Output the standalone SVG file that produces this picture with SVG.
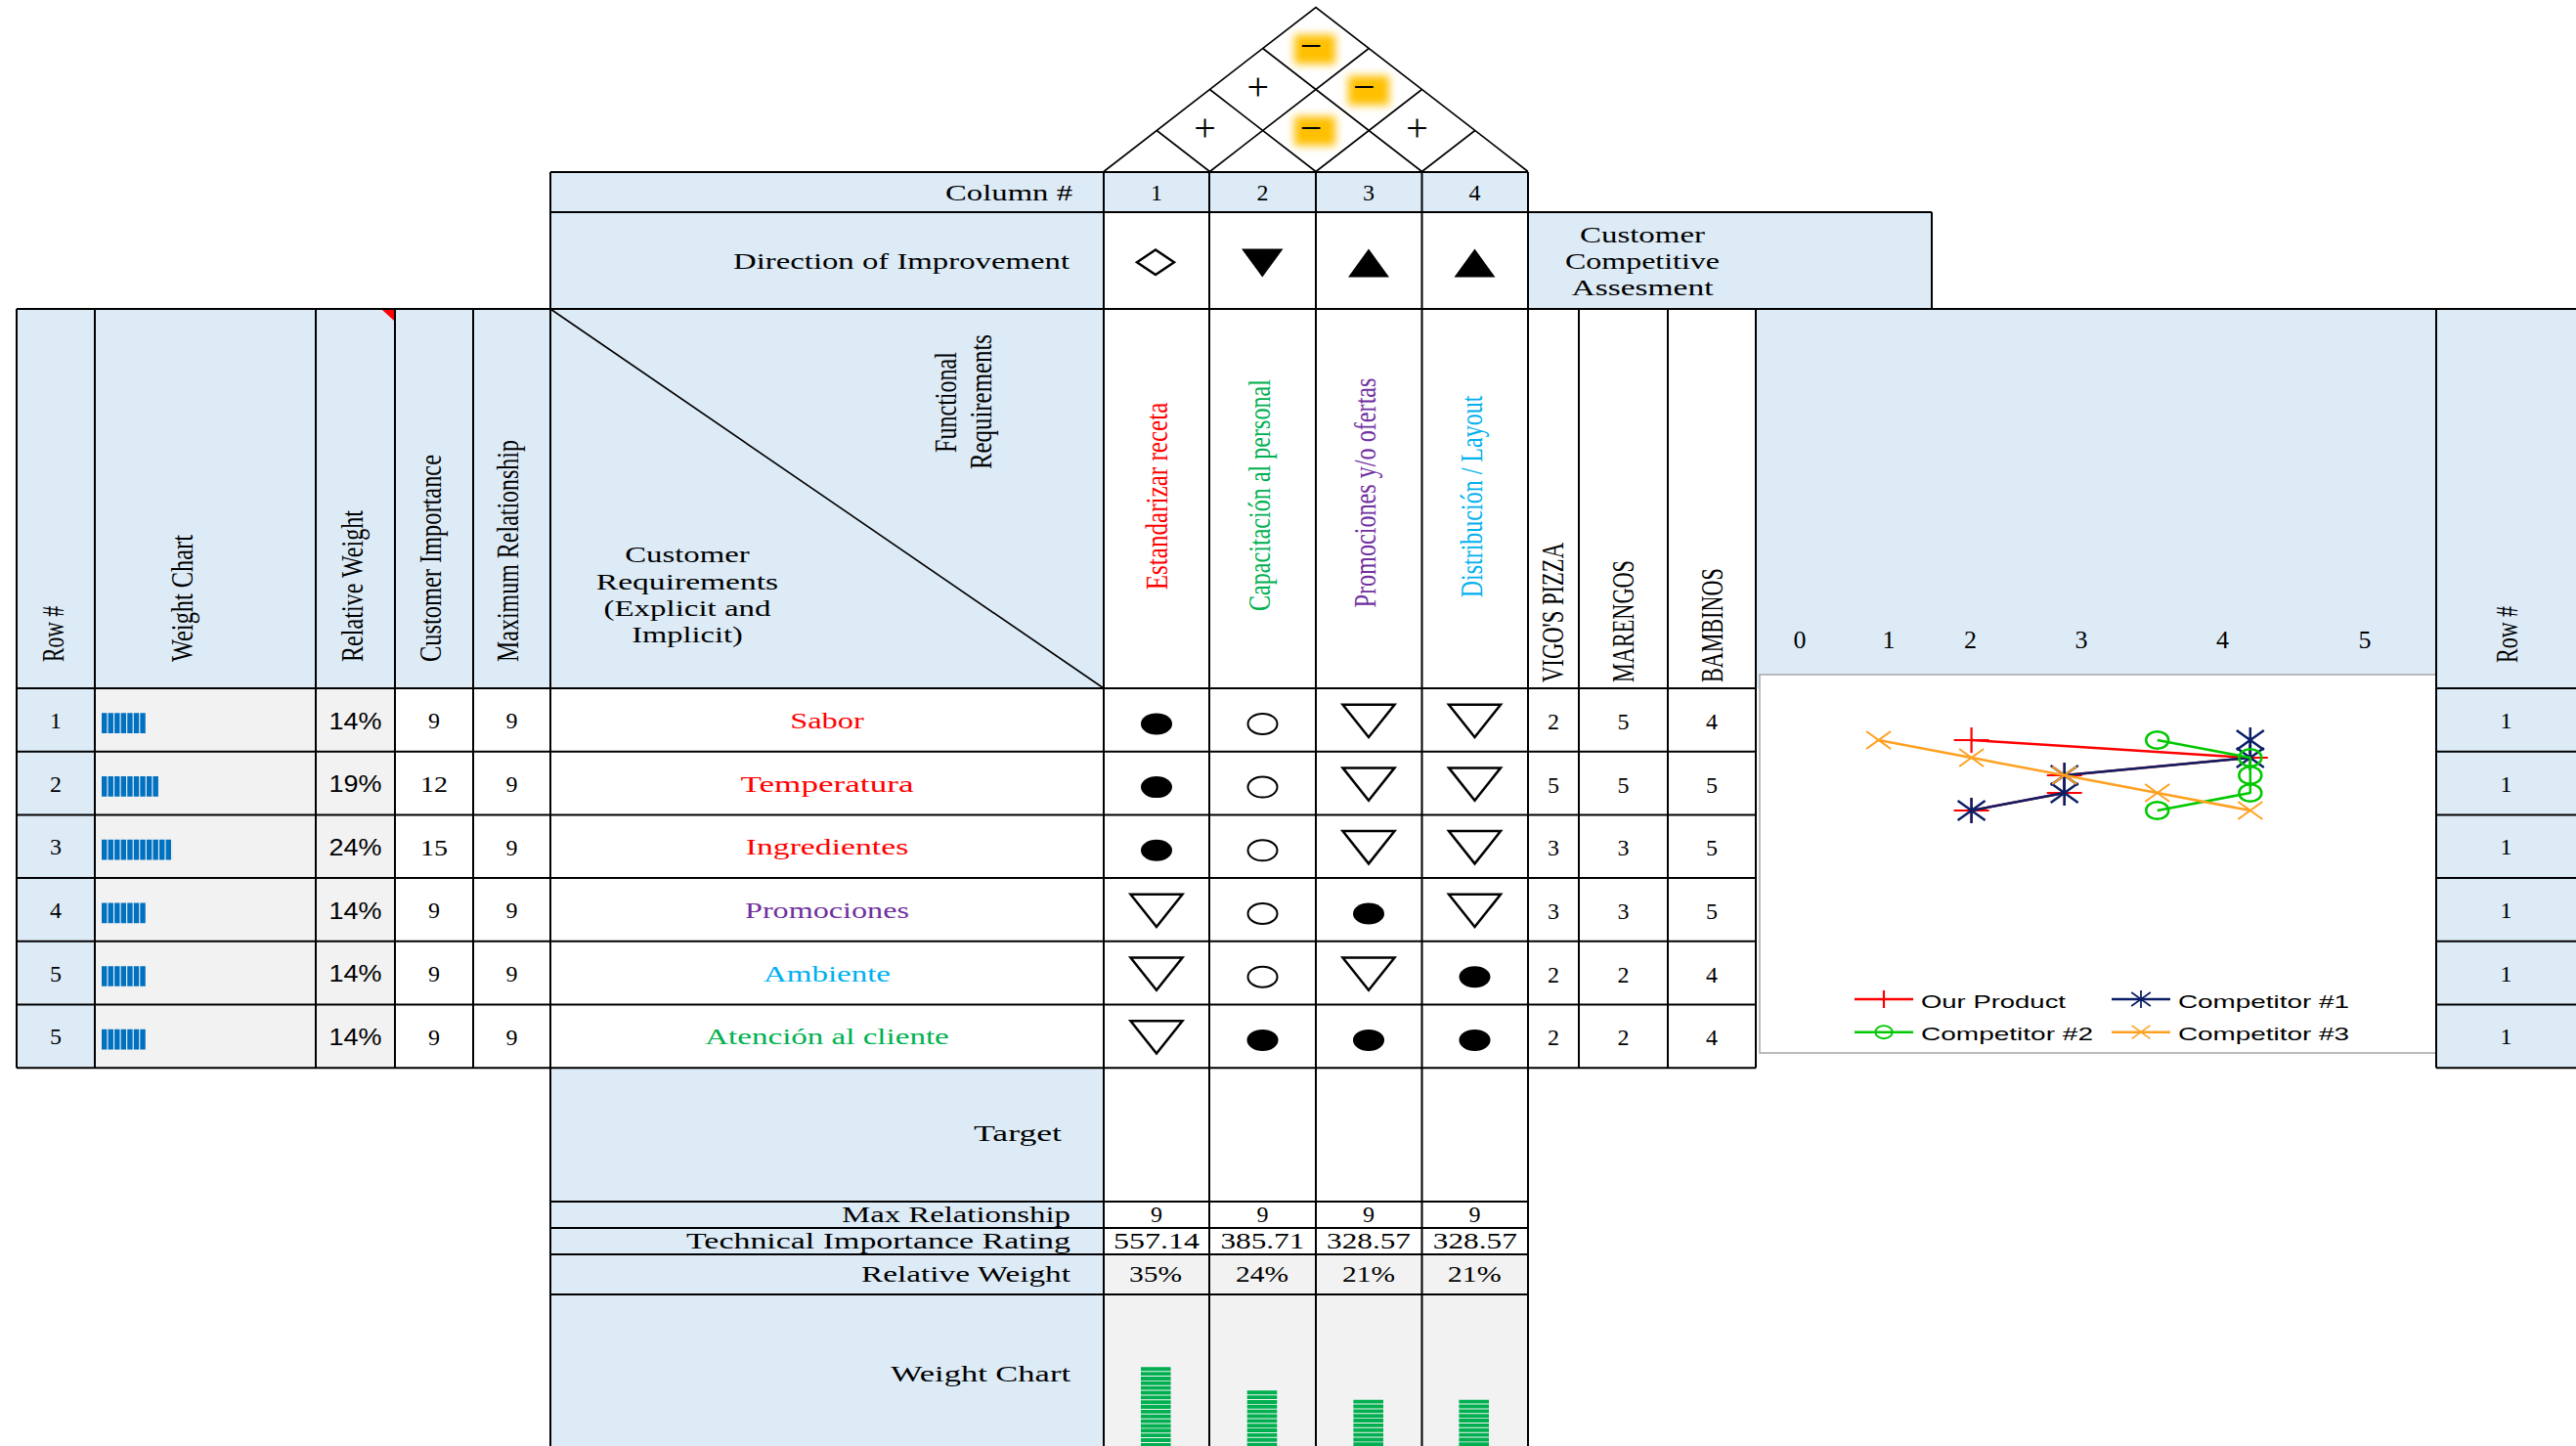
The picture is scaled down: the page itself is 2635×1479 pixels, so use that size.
<svg xmlns="http://www.w3.org/2000/svg" width="2635" height="1479" viewBox="0 0 2635 1479">
<style>
.bl{fill:#DDEBF7}
.gr{fill:#F2F2F2}
.g{stroke:#000;stroke-width:2;fill:none}
.rf{stroke:#000;stroke-width:1.6;fill:none}
.s{font-family:"Liberation Serif",serif;font-size:24px}
.c{text-anchor:middle}
.e{text-anchor:end}
.v{font-family:"Liberation Serif",serif;font-size:31px}
.pm{font-family:"Liberation Serif",serif;font-size:40px;text-anchor:middle}
.ss{font-family:"Liberation Sans",sans-serif;font-size:23px;text-anchor:middle}
.lg{font-family:"Liberation Sans",sans-serif;font-size:19px}
.red{fill:#FF0000}
.grn{fill:#00B050}
.pur{fill:#7030A0}
.cya{fill:#00B0F0}
.dot{fill:#000}
.ring{fill:none;stroke:#000;stroke-width:2}
.tri{fill:none;stroke:#000;stroke-width:2.5}
.hl{fill:#FFC000;filter:url(#glow)}
.ln{fill:none;stroke-width:2.5;stroke-linejoin:round}
</style>
<defs>
  <filter id="glow" x="-50%" y="-50%" width="200%" height="200%"><feGaussianBlur stdDeviation="4.5"/></filter>
  <path id="tri" d="M-26.5,-15.7 H26.5 L0,17.6 Z"/>
  <path id="mPlus" d="M-18,0 H18 M0,-13 V13" fill="none" stroke="#FF0000" stroke-width="2.2"/>
  <path id="mAst" d="M0,-13 V13 M-14,-10 L14,10 M-14,10 L14,-10" fill="none" stroke="#0B1F66" stroke-width="2.5"/>
  <ellipse id="mCirc" rx="11.5" ry="8.8" fill="none" stroke="#00C800" stroke-width="2.5"/>
  <path id="mX" d="M-12.5,-9 L12.5,9 M-12.5,9 L12.5,-9" fill="none" stroke="#FFA020" stroke-width="2"/>
</defs>

<!-- correlation roof -->
<g id="roof">
  <rect class="hl" x="1324" y="35.5" width="42" height="30"/>
  <rect class="hl" x="1379" y="77.5" width="42" height="30"/>
  <rect class="hl" x="1324" y="119" width="42" height="30"/>
  <path class="rf" d="M1129,175.5 L1346,7.5 L1563,175.5 M1237.5,175.5 L1400.25,49.5 M1346,175.5 L1454.5,91.5 M1454.5,175.5 L1508.75,133.5 M1237.5,175.5 L1183.25,133.5 M1346,175.5 L1237.5,91.5 M1454.5,175.5 L1291.75,49.5"/>
  <text class="pm" x="1341" y="59.5">−</text>
  <text class="pm" x="1286.75" y="101.5">+</text>
  <text class="pm" x="1395.25" y="101.5">−</text>
  <text class="pm" x="1232.5" y="143.5">+</text>
  <text class="pm" x="1341" y="143.5">−</text>
  <text class="pm" x="1449.5" y="143.5">+</text>
</g>

<!-- column numbers and direction of improvement -->
<g id="header-top">
  <rect class="bl" x="563" y="176" width="1000" height="41"/>
  <rect class="bl" x="563" y="217" width="566" height="99"/>
  <rect class="bl" x="1563" y="217" width="413" height="99"/>
  <text class="s e" x="1097" y="205" textLength="130" lengthAdjust="spacingAndGlyphs">Column #</text>
  <text class="s c" x="1183" y="204.5">1</text>
  <text class="s c" x="1291.5" y="204.5">2</text>
  <text class="s c" x="1400" y="204.5">3</text>
  <text class="s c" x="1508.5" y="204.5">4</text>
  <text class="s e" x="1094" y="275" textLength="344" lengthAdjust="spacingAndGlyphs">Direction of Improvement</text>
  <polygon points="1163,268.3 1182,255.5 1201,268.3 1182,281" fill="#fff" stroke="#000" stroke-width="2.5"/>
  <polygon points="1270,254.5 1312.5,254.5 1291.3,283.5" fill="#000"/>
  <polygon points="1379,283.5 1421,283.5 1400,254.5" fill="#000"/>
  <polygon points="1487.5,283.5 1529.5,283.5 1508.5,254.5" fill="#000"/>
  <text class="s c" x="1680" y="247.5" textLength="128" lengthAdjust="spacingAndGlyphs">Customer</text>
  <text class="s c" x="1680" y="275" textLength="158" lengthAdjust="spacingAndGlyphs">Competitive</text>
  <text class="s c" x="1680" y="302" textLength="145" lengthAdjust="spacingAndGlyphs">Assesment</text>
</g>

<!-- left panel: headers, weights and importance -->
<g id="left-panel">
  <rect class="bl" x="17" y="316" width="1112" height="388"/>
  <rect class="bl" x="17" y="704" width="80" height="388"/>
  <rect class="gr" x="97" y="704" width="307" height="388"/>
  <polygon points="391,317 403,317 403,328" fill="#FF0000"/>
  <text class="v" transform="translate(65,677) rotate(-90)" textLength="57" lengthAdjust="spacingAndGlyphs">Row #</text>
  <text class="v" transform="translate(197,677) rotate(-90)" textLength="130" lengthAdjust="spacingAndGlyphs">Weight Chart</text>
  <text class="v" transform="translate(371,677) rotate(-90)" textLength="155" lengthAdjust="spacingAndGlyphs">Relative Weight</text>
  <text class="v" transform="translate(451,677) rotate(-90)" textLength="212" lengthAdjust="spacingAndGlyphs">Customer Importance</text>
  <text class="v" transform="translate(530,677) rotate(-90)" textLength="227" lengthAdjust="spacingAndGlyphs">Maximum Relationship</text>

  <g class="s c">
    <text x="57" y="744.8">1</text>
    <text x="57" y="809.5">2</text>
    <text x="57" y="874.2">3</text>
    <text x="57" y="938.9">4</text>
    <text x="57" y="1003.6">5</text>
    <text x="57" y="1068.3">5</text>
    <text x="444" y="745.3">9</text>
    <text x="444" y="810" textLength="28" lengthAdjust="spacingAndGlyphs">12</text>
    <text x="444" y="874.7" textLength="28" lengthAdjust="spacingAndGlyphs">15</text>
    <text x="444" y="939.4">9</text>
    <text x="444" y="1004.1">9</text>
    <text x="444" y="1068.8">9</text>
    <text x="523.5" y="745.3">9</text>
    <text x="523.5" y="810">9</text>
    <text x="523.5" y="874.7">9</text>
    <text x="523.5" y="939.4">9</text>
    <text x="523.5" y="1004.1">9</text>
    <text x="523.5" y="1068.8">9</text>
  </g>
  <g class="ss">
    <text x="363.6" y="745.5" textLength="54" lengthAdjust="spacingAndGlyphs">14%</text>
    <text x="363.6" y="810.2" textLength="54" lengthAdjust="spacingAndGlyphs">19%</text>
    <text x="363.6" y="874.9" textLength="54" lengthAdjust="spacingAndGlyphs">24%</text>
    <text x="363.6" y="939.6" textLength="54" lengthAdjust="spacingAndGlyphs">14%</text>
    <text x="363.6" y="1004.3" textLength="54" lengthAdjust="spacingAndGlyphs">14%</text>
    <text x="363.6" y="1069" textLength="54" lengthAdjust="spacingAndGlyphs">14%</text>
  </g>
  <!-- blue bar segments -->
  <g stroke="#0070C0" stroke-width="20.7" stroke-dasharray="5.4 1.16">
    <line x1="104" y1="739.7" x2="149.9" y2="739.7"/>
    <line x1="104" y1="804.4" x2="163" y2="804.4"/>
    <line x1="104" y1="869.1" x2="176.2" y2="869.1"/>
    <line x1="104" y1="933.8" x2="149.9" y2="933.8"/>
    <line x1="104" y1="998.5" x2="149.9" y2="998.5"/>
    <line x1="104" y1="1063.2" x2="149.9" y2="1063.2"/>
  </g>
</g>

<!-- customer requirements -->
<g id="customer-requirements">
  <line x1="563" y1="316" x2="1129" y2="704" stroke="#000" stroke-width="1.6"/>
  <text class="v c" transform="translate(978,411.5) rotate(-90)" textLength="103" lengthAdjust="spacingAndGlyphs">Functional</text>
  <text class="v c" transform="translate(1014,411) rotate(-90)" textLength="138" lengthAdjust="spacingAndGlyphs">Requirements</text>
  <text class="s c" x="703" y="575" textLength="127.6" lengthAdjust="spacingAndGlyphs">Customer</text>
  <text class="s c" x="703" y="602.5" textLength="186.4" lengthAdjust="spacingAndGlyphs">Requirements</text>
  <text class="s c" x="703" y="629.5" textLength="171" lengthAdjust="spacingAndGlyphs">(Explicit and</text>
  <text class="s c" x="703" y="657" textLength="113.6" lengthAdjust="spacingAndGlyphs">Implicit)</text>
  <text class="s c red" x="846" y="744.8" textLength="75.7" lengthAdjust="spacingAndGlyphs">Sabor</text>
  <text class="s c red" x="846" y="809.5" textLength="177" lengthAdjust="spacingAndGlyphs">Temperatura</text>
  <text class="s c red" x="846" y="874.2" textLength="166.5" lengthAdjust="spacingAndGlyphs">Ingredientes</text>
  <text class="s c pur" x="846" y="938.9" textLength="168" lengthAdjust="spacingAndGlyphs">Promociones</text>
  <text class="s c cya" x="846" y="1003.6" textLength="130" lengthAdjust="spacingAndGlyphs">Ambiente</text>
  <text class="s c grn" x="846" y="1068.3" textLength="249.5" lengthAdjust="spacingAndGlyphs">Atención al cliente</text>
</g>

<!-- functional requirements headers -->
<g id="functional-requirements">
  <text class="v c red" transform="translate(1194,507.5) rotate(-90)" textLength="191.6" lengthAdjust="spacingAndGlyphs">Estandarizar receta</text>
  <text class="v c grn" transform="translate(1299,506.5) rotate(-90)" textLength="237" lengthAdjust="spacingAndGlyphs">Capacitación al personal</text>
  <text class="v c pur" transform="translate(1407,504) rotate(-90)" textLength="235" lengthAdjust="spacingAndGlyphs">Promociones y/o ofertas</text>
  <text class="v c cya" transform="translate(1516,508) rotate(-90)" textLength="206.7" lengthAdjust="spacingAndGlyphs">Distribución / Layout</text>
</g>

<!-- relationship matrix -->
<g id="matrix">
  <!-- row 1 -->
  <ellipse class="dot" cx="1183" cy="740.4" rx="16" ry="11"/>
  <ellipse class="ring" cx="1291.5" cy="740.4" rx="15" ry="10.5"/>
  <use href="#tri" class="tri" x="1400" y="736.4"/>
  <use href="#tri" class="tri" x="1508.5" y="736.4"/>
  <!-- row 2 -->
  <ellipse class="dot" cx="1183" cy="805.1" rx="16" ry="11"/>
  <ellipse class="ring" cx="1291.5" cy="805.1" rx="15" ry="10.5"/>
  <use href="#tri" class="tri" x="1400" y="801.1"/>
  <use href="#tri" class="tri" x="1508.5" y="801.1"/>
  <!-- row 3 -->
  <ellipse class="dot" cx="1183" cy="869.8" rx="16" ry="11"/>
  <ellipse class="ring" cx="1291.5" cy="869.8" rx="15" ry="10.5"/>
  <use href="#tri" class="tri" x="1400" y="865.8"/>
  <use href="#tri" class="tri" x="1508.5" y="865.8"/>
  <!-- row 4 -->
  <use href="#tri" class="tri" x="1183" y="930.5"/>
  <ellipse class="ring" cx="1291.5" cy="934.5" rx="15" ry="10.5"/>
  <ellipse class="dot" cx="1400" cy="934.5" rx="16" ry="11"/>
  <use href="#tri" class="tri" x="1508.5" y="930.5"/>
  <!-- row 5 -->
  <use href="#tri" class="tri" x="1183" y="995.2"/>
  <ellipse class="ring" cx="1291.5" cy="999.2" rx="15" ry="10.5"/>
  <use href="#tri" class="tri" x="1400" y="995.2"/>
  <ellipse class="dot" cx="1508.5" cy="999.2" rx="16" ry="11"/>
  <!-- row 6 -->
  <use href="#tri" class="tri" x="1183" y="1059.9"/>
  <ellipse class="dot" cx="1291.5" cy="1063.9" rx="16" ry="11"/>
  <ellipse class="dot" cx="1400" cy="1063.9" rx="16" ry="11"/>
  <ellipse class="dot" cx="1508.5" cy="1063.9" rx="16" ry="11"/>
</g>

<!-- competitor ratings -->
<g id="competitors">
  <text class="v" transform="translate(1599,698) rotate(-90)" textLength="143" lengthAdjust="spacingAndGlyphs">VIGO'S PIZZA</text>
  <text class="v" transform="translate(1671,698) rotate(-90)" textLength="125" lengthAdjust="spacingAndGlyphs">MARENGOS</text>
  <text class="v" transform="translate(1762,698) rotate(-90)" textLength="116.7" lengthAdjust="spacingAndGlyphs">BAMBINOS</text>
  <g class="s c">
    <text x="1589" y="745.8">2</text><text x="1660.5" y="745.8">5</text><text x="1751" y="745.8">4</text>
    <text x="1589" y="810.5">5</text><text x="1660.5" y="810.5">5</text><text x="1751" y="810.5">5</text>
    <text x="1589" y="875.2">3</text><text x="1660.5" y="875.2">3</text><text x="1751" y="875.2">5</text>
    <text x="1589" y="939.9">3</text><text x="1660.5" y="939.9">3</text><text x="1751" y="939.9">5</text>
    <text x="1589" y="1004.6">2</text><text x="1660.5" y="1004.6">2</text><text x="1751" y="1004.6">4</text>
    <text x="1589" y="1069.3">2</text><text x="1660.5" y="1069.3">2</text><text x="1751" y="1069.3">4</text>
  </g>
</g>

<!-- competitive assessment chart -->
<g id="assessment-chart">
  <rect class="bl" x="1796" y="316" width="696" height="388"/>
  <g class="s c" style="font-size:26px">
    <text x="1841" y="663">0</text>
    <text x="1932" y="663">1</text>
    <text x="2015.5" y="663">2</text>
    <text x="2129" y="663">3</text>
    <text x="2273.5" y="663">4</text>
    <text x="2419" y="663">5</text>
  </g>
  <rect x="1800" y="690" width="692" height="387" fill="#fff" stroke="#A6A6A6" stroke-width="1.5"/>
  <polyline class="ln" stroke="#FF0000" points="2016.6,757 2301.8,775 2111.7,793 2111.7,811 2016.6,829"/>
  <use href="#mPlus" x="2016.6" y="757"/><use href="#mPlus" x="2301.8" y="775"/><use href="#mPlus" x="2111.7" y="793"/><use href="#mPlus" x="2111.7" y="811"/><use href="#mPlus" x="2016.6" y="829"/>
  <polyline class="ln" stroke="#0B1F66" points="2301.8,757 2301.8,775 2111.7,793 2111.7,811 2016.6,829"/>
  <use href="#mAst" x="2301.8" y="757"/><use href="#mAst" x="2301.8" y="775"/><use href="#mAst" x="2111.7" y="793"/><use href="#mAst" x="2111.7" y="811"/><use href="#mAst" x="2016.6" y="829"/>
  <polyline class="ln" stroke="#00C800" points="2206.7,757 2301.8,775 2301.8,793 2301.8,811 2206.7,829"/>
  <use href="#mCirc" x="2206.7" y="757"/><use href="#mCirc" x="2301.8" y="775"/><use href="#mCirc" x="2301.8" y="793"/><use href="#mCirc" x="2301.8" y="811"/><use href="#mCirc" x="2206.7" y="829"/>
  <polyline class="ln" stroke="#FFA020" points="1921.6,757 2016.6,775 2111.7,793 2206.7,811 2301.8,829"/>
  <use href="#mX" x="1921.6" y="757"/><use href="#mX" x="2016.6" y="775"/><use href="#mX" x="2111.7" y="793"/><use href="#mX" x="2206.7" y="811"/><use href="#mX" x="2301.8" y="829"/>
  <!-- legend -->
  <line x1="1897" y1="1022" x2="1957" y2="1022" stroke="#FF0000" stroke-width="2.5"/>
  <line x1="1927" y1="1013" x2="1927" y2="1031" stroke="#FF0000" stroke-width="2.2"/>
  <text class="lg" x="1965" y="1031" textLength="148" lengthAdjust="spacingAndGlyphs">Our Product</text>
  <line x1="2160" y1="1022" x2="2220" y2="1022" stroke="#0B1F66" stroke-width="2.5"/>
  <use href="#mAst" transform="translate(2190,1022) scale(0.7)"/>
  <text class="lg" x="2228" y="1031" textLength="175" lengthAdjust="spacingAndGlyphs">Competitor #1</text>
  <line x1="1897" y1="1055.7" x2="1957" y2="1055.7" stroke="#00C800" stroke-width="2.5"/>
  <use href="#mCirc" transform="translate(1927,1055.7) scale(0.75)"/>
  <text class="lg" x="1965" y="1064" textLength="176" lengthAdjust="spacingAndGlyphs">Competitor #2</text>
  <line x1="2160" y1="1055.7" x2="2220" y2="1055.7" stroke="#FFA020" stroke-width="2.5"/>
  <use href="#mX" transform="translate(2190,1055.7) scale(0.75)"/>
  <text class="lg" x="2228" y="1064" textLength="175" lengthAdjust="spacingAndGlyphs">Competitor #3</text>
</g>

<!-- right row numbers -->
<g id="right-rows">
  <rect class="bl" x="2492" y="316" width="150" height="776"/>
  <text class="v" transform="translate(2575,678) rotate(-90)" textLength="58" lengthAdjust="spacingAndGlyphs">Row #</text>
  <g class="s c">
    <text x="2563.5" y="744.8">1</text>
    <text x="2563.5" y="809.5">1</text>
    <text x="2563.5" y="874.2">1</text>
    <text x="2563.5" y="938.9">1</text>
    <text x="2563.5" y="1003.6">1</text>
    <text x="2563.5" y="1068.3">1</text>
  </g>
</g>

<!-- technical ratings basement -->
<g id="basement">
  <rect class="bl" x="563" y="1092" width="566" height="390"/>
  <rect class="gr" x="1129" y="1283" width="434" height="199"/>
  <text class="s e" x="1086" y="1167" textLength="90" lengthAdjust="spacingAndGlyphs">Target</text>
  <text class="s e" x="1095" y="1249.5" textLength="234" lengthAdjust="spacingAndGlyphs">Max Relationship</text>
  <text class="s e" x="1095" y="1277" textLength="393" lengthAdjust="spacingAndGlyphs">Technical Importance Rating</text>
  <text class="s e" x="1095" y="1311" textLength="214" lengthAdjust="spacingAndGlyphs">Relative Weight</text>
  <text class="s e" x="1095" y="1413" textLength="184" lengthAdjust="spacingAndGlyphs">Weight Chart</text>
  <g class="s c">
    <text x="1183" y="1249.5">9</text>
    <text x="1291.5" y="1249.5">9</text>
    <text x="1400" y="1249.5">9</text>
    <text x="1508.5" y="1249.5">9</text>
    <text x="1183" y="1277" textLength="88" lengthAdjust="spacingAndGlyphs">557.14</text>
    <text x="1291.4" y="1277" textLength="86" lengthAdjust="spacingAndGlyphs">385.71</text>
    <text x="1400" y="1277" textLength="86" lengthAdjust="spacingAndGlyphs">328.57</text>
    <text x="1508.8" y="1277" textLength="86" lengthAdjust="spacingAndGlyphs">328.57</text>
    <text x="1182" y="1311" textLength="54" lengthAdjust="spacingAndGlyphs">35%</text>
    <text x="1291" y="1311" textLength="54" lengthAdjust="spacingAndGlyphs">24%</text>
    <text x="1400" y="1311" textLength="54" lengthAdjust="spacingAndGlyphs">21%</text>
    <text x="1508.3" y="1311" textLength="55" lengthAdjust="spacingAndGlyphs">21%</text>
  </g>
  <!-- green bar segments -->
  <g stroke="#00B050" stroke-width="30.6" stroke-dasharray="3.9 0.95">
    <line x1="1182.3" y1="1398.3" x2="1182.3" y2="1479"/>
    <line x1="1291" y1="1422.3" x2="1291" y2="1479"/>
    <line x1="1399.7" y1="1431.7" x2="1399.7" y2="1479"/>
    <line x1="1507.7" y1="1431.7" x2="1507.7" y2="1479"/>
  </g>
</g>

<!-- grid lines -->
<g id="grid" class="g">
  <path d="M563,176 H1563 M563,217 H1976 M17,316 H2640 M1976,217 V316"/>
  <path d="M17,704 H1796 M17,768.7 H1796 M17,833.4 H1796 M17,898.1 H1796 M17,962.8 H1796 M17,1027.5 H1796 M17,1092.2 H1796"/>
  <path d="M2492,704 H2640 M2492,768.7 H2640 M2492,833.4 H2640 M2492,898.1 H2640 M2492,962.8 H2640 M2492,1027.5 H2640 M2492,1092.2 H2640"/>
  <path d="M563,1229 H1563 M563,1256 H1563 M563,1283 H1563 M563,1324 H1563"/>
  <path d="M563,176 V1479 M1129,176 V1479 M1237,176 V1479 M1346,176 V1479 M1454.5,176 V1479 M1563,176 V1479"/>
  <path d="M17,316 V1092.2 M97,316 V1092.2 M323,316 V1092.2 M404,316 V1092.2 M484,316 V1092.2 M1615,316 V1092.2 M1706,316 V1092.2 M1796,316 V1092.2 M2492,316 V1092.2"/>
</g>
</svg>
